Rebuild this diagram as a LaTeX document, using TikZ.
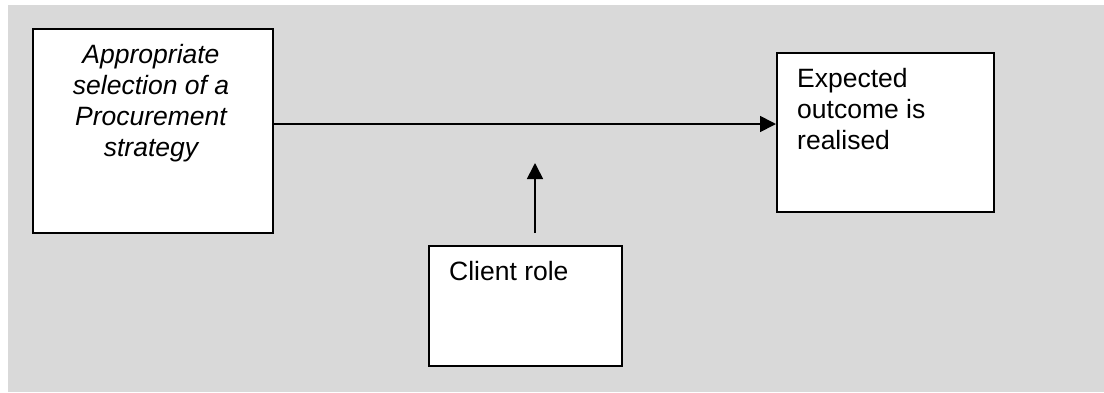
\documentclass[tikz,border=0pt]{standalone}
\usepackage{fontspec}
\setmainfont{Liberation Sans}
\usetikzlibrary{arrows.meta}
\definecolor{bggray}{HTML}{D9D9D9}
\begin{document}
\begin{tikzpicture}[x=1pt,y=-1pt,
  box/.style={draw=black,fill=white,line width=2pt,inner sep=0pt,anchor=north west},
  lbl/.style={inner sep=0pt,font=\fontsize{26.5}{31}\selectfont},
  conn/.style={line width=1.7pt,-{Triangle[length=16pt,width=16pt]}}]
\useasboundingbox (0,0) rectangle (1104,392);
\fill[bggray] (8,5) rectangle (1104,392);
\node[box,minimum width=240pt,minimum height=204pt] (b1) at (32,28) {};
\node[box,minimum width=217pt,minimum height=159pt] (b2) at (776,52) {};
\node[box,minimum width=193pt,minimum height=120pt] (b3) at (428,245) {};
\node[lbl,anchor=north,align=center] (t1) at (151,41.3) {\strut\itshape Appropriate\\\itshape selection of a\\\itshape Procurement\\\itshape strategy};
\node[lbl,anchor=north west,align=left] (t2) at (797,65.3) {\strut Expected\\outcome is\\realised};
\node[lbl,anchor=north west,align=left] (t3) at (449,258.3) {\strut Client role};
\coordinate (a1) at (272,124);
\coordinate (a2) at (776,124);
\coordinate (c1) at (535,233);
\coordinate (c2) at (535,163);
\draw[conn] (a1) -- (a2);
\draw[conn] (c1) -- (c2);
\end{tikzpicture}
\end{document}
